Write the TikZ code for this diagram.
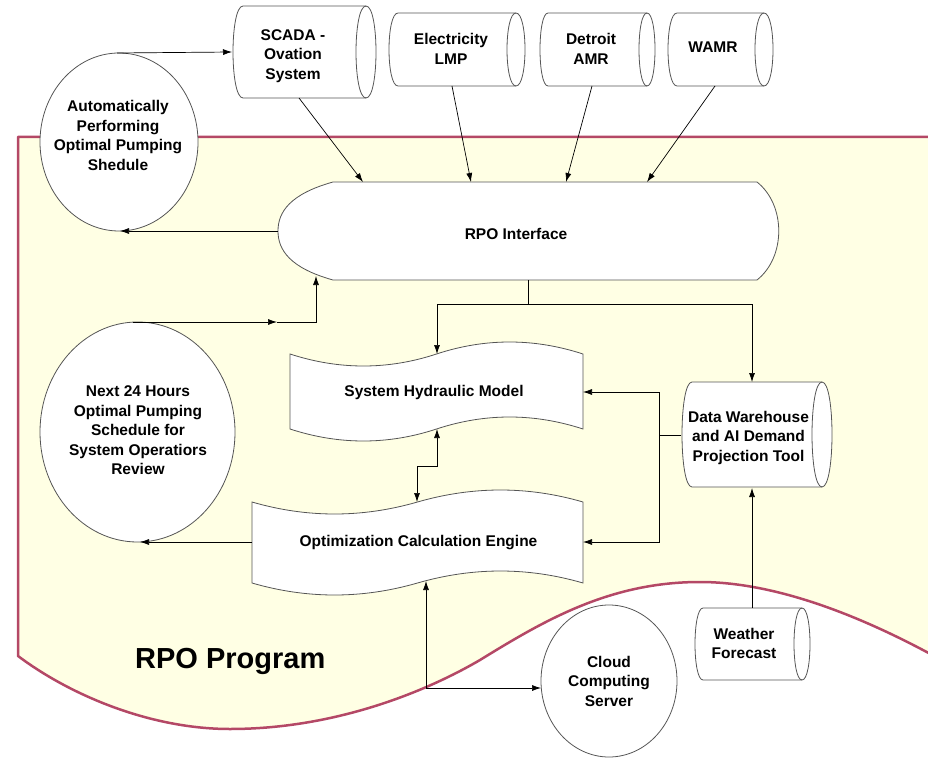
\documentclass[tikz,border=0pt]{standalone}
\usepackage{fontspec}
\setmainfont{Liberation Sans}
\usetikzlibrary{arrows.meta}
\definecolor{bgfill}{RGB}{255,255,228}
\definecolor{bord}{RGB}{180,72,102}
\definecolor{outl}{RGB}{85,85,85}
\newcommand\cylpath[5]{%
 \filldraw[shp] (#1,#3) -- (#2,#3) .. controls (#2+1.333*#5,#3) and (#2+1.333*#5,#4) .. (#2,#4) -- (#1,#4) .. controls (#1-1.333*#5,#4) and (#1-1.333*#5,#3) .. cycle;
 \draw[shpline] (#2,#3) .. controls (#2-1.333*#5,#3) and (#2-1.333*#5,#4) .. (#2,#4);}
\begin{document}
\begin{tikzpicture}[x=1pt,y=-1pt,
 shp/.style={draw=outl,fill=white,line width=0.8pt},
 shpline/.style={draw=outl,line width=0.8pt},
 plain/.style={draw=black,line width=0.7pt},
 conn/.style={plain,-{Latex[length=9pt,width=6pt]}},
 conn2/.style={plain,{Latex[length=9pt,width=6pt]}-{Latex[length=9pt,width=6pt]}},
 lbl/.style={font=\fontsize{15.5}{19.5}\selectfont\bfseries,align=center,inner sep=0pt},
 big/.style={font=\fontsize{29}{34}\selectfont\bfseries,inner sep=0pt}]
\useasboundingbox (0,0) rectangle (928,759);
% background region
\path[fill=bgfill] (945,137) -- (18,137) -- (18,656) .. controls (70,695) and (150,729) .. (230,729) .. controls (330,729) and (420,695) .. (480,660) .. controls (545,620) and (610,582) .. (700,582) .. controls (780,582) and (870,620) .. (945,662) -- cycle;
\draw[bord,line width=2.5pt,line join=round] (945,137) -- (18,137) -- (18,656) .. controls (70,695) and (150,729) .. (230,729) .. controls (330,729) and (420,695) .. (480,660) .. controls (545,620) and (610,582) .. (700,582) .. controls (780,582) and (870,620) .. (945,662);
\node[big,anchor=base west] (prog) at (135,668) {RPO Program};
% cylinders
\cylpath{243}{366}{6}{98}{10}
\cylpath{398}{516}{13}{86}{9}
\cylpath{548}{647}{13}{86}{8}
\cylpath{677}{764}{13}{86}{9}
\cylpath{692}{822}{382}{487}{10}
\cylpath{703}{802}{608}{680}{8}
\node[lbl] (scada) at (293,56) {SCADA -\\Ovation\\System};
\node[lbl] (elec) at (451,49) {Electricity\\LMP};
\node[lbl] (detroit) at (591,49) {Detroit\\AMR};
\node[lbl] (wamr) at (713,47.5) {WAMR};
\node[lbl] (dw) at (748.5,437.5) {Data Warehouse\\and AI Demand\\Projection Tool};
\node[lbl] (wf) at (744,643.5) {Weather\\Forecast};
% ellipses
\filldraw[shp] (119,142) ellipse [x radius=79pt,y radius=89pt];
\node[lbl] (auto) at (118,135.5) {Automatically\\Performing\\Optimal Pumping\\Shedule};
\filldraw[shp] (137.5,432) ellipse [x radius=97.5pt,y radius=110pt];
\node[lbl] (next) at (138,430.5) {Next 24 Hours\\Optimal Pumping\\Schedule for\\System Operatiors\\Review};
\filldraw[shp] (609,681) ellipse [x radius=68pt,y radius=76pt];
\node[lbl] (cloud) at (609,681) {Cloud\\Computing\\Server};
% RPO interface
\filldraw[shp] (333,182) -- (757,182) .. controls (786,205) and (786,257) .. (757,280) -- (333,280) .. controls (290,268) and (278,250) .. (278,231) .. controls (278,212) and (290,194) .. cycle;
\node[lbl] (rpo) at (516,234) {RPO Interface};
% system hydraulic model
\filldraw[shp] (290,354) .. controls (339,370) and (388,370) .. (436.5,354) .. controls (485,338) and (534,338) .. (583,354) -- (583,429) .. controls (534,413) and (485,413) .. (436.5,429) .. controls (388,445) and (339,445) .. (290,429) -- cycle;
\node[lbl] (shm) at (434,392.5) {System Hydraulic Model};
% optimization engine
\filldraw[shp] (252,502) .. controls (307,518) and (362,518) .. (417.5,502) .. controls (473,486) and (528,486) .. (583,502) -- (583,583) .. controls (528,567) and (473,567) .. (417.5,583) .. controls (362,599) and (307,599) .. (252,583) -- cycle;
\node[lbl] (opt) at (418.5,542.8) {Optimization Calculation Engine};
% connection points
\coordinate (autoN) at (117,53);
\coordinate (scadaW) at (232,52);
\coordinate (autoS) at (120,231);
\coordinate (rpoW) at (278,231);
\coordinate (scadaS) at (299,98);
\coordinate (rpoT1) at (363,182);
\coordinate (elecS) at (452,86);
\coordinate (rpoT2) at (471,182);
\coordinate (detS) at (592,86);
\coordinate (rpoT3) at (566,182);
\coordinate (wamrS) at (715,86);
\coordinate (rpoT4) at (647,182);
\coordinate (rpoS) at (528,280);
\coordinate (split) at (528,304);
\coordinate (shmN) at (437,354);
\coordinate (dwN) at (752,382);
\coordinate (nextN) at (133,322);
\coordinate (midA) at (277,322);
\coordinate (rpoSW) at (316,276);
\coordinate (shmS) at (437,429);
\coordinate (optN) at (417,502);
\coordinate (dwW) at (681,435);
\coordinate (brk) at (659,435);
\coordinate (shmE) at (583,392);
\coordinate (optE) at (583,542);
\coordinate (wfN) at (752,608);
\coordinate (dwS) at (752,488);
\coordinate (optW) at (252,542);
\coordinate (nextS) at (140,542);
\coordinate (optS) at (426,581);
\coordinate (cloudW) at (541,688);
% connectors
\draw[conn] (autoN) -- (scadaW);
\draw[conn] (rpoW) -- (autoS);
\draw[conn] (scadaS) -- (rpoT1);
\draw[conn] (elecS) -- (rpoT2);
\draw[conn] (detS) -- (rpoT3);
\draw[conn] (wamrS) -- (rpoT4);
\draw[plain] (rpoS) -- (split);
\draw[conn] (split) -| (shmN);
\draw[conn] (split) -| (dwN);
\draw[conn] (nextN) -- (midA);
\draw[conn] (midA) -| (rpoSW);
\draw[conn2] (shmS) -- ++(0,37) -| (optN);
\draw[plain] (dwW) -- (brk);
\draw[conn] (brk) |- (shmE);
\draw[conn] (brk) |- (optE);
\draw[conn] (wfN) -- (dwS);
\draw[conn] (optW) -- (nextS);
\draw[conn2] (optS) |- (cloudW);
\end{tikzpicture}
\end{document}
